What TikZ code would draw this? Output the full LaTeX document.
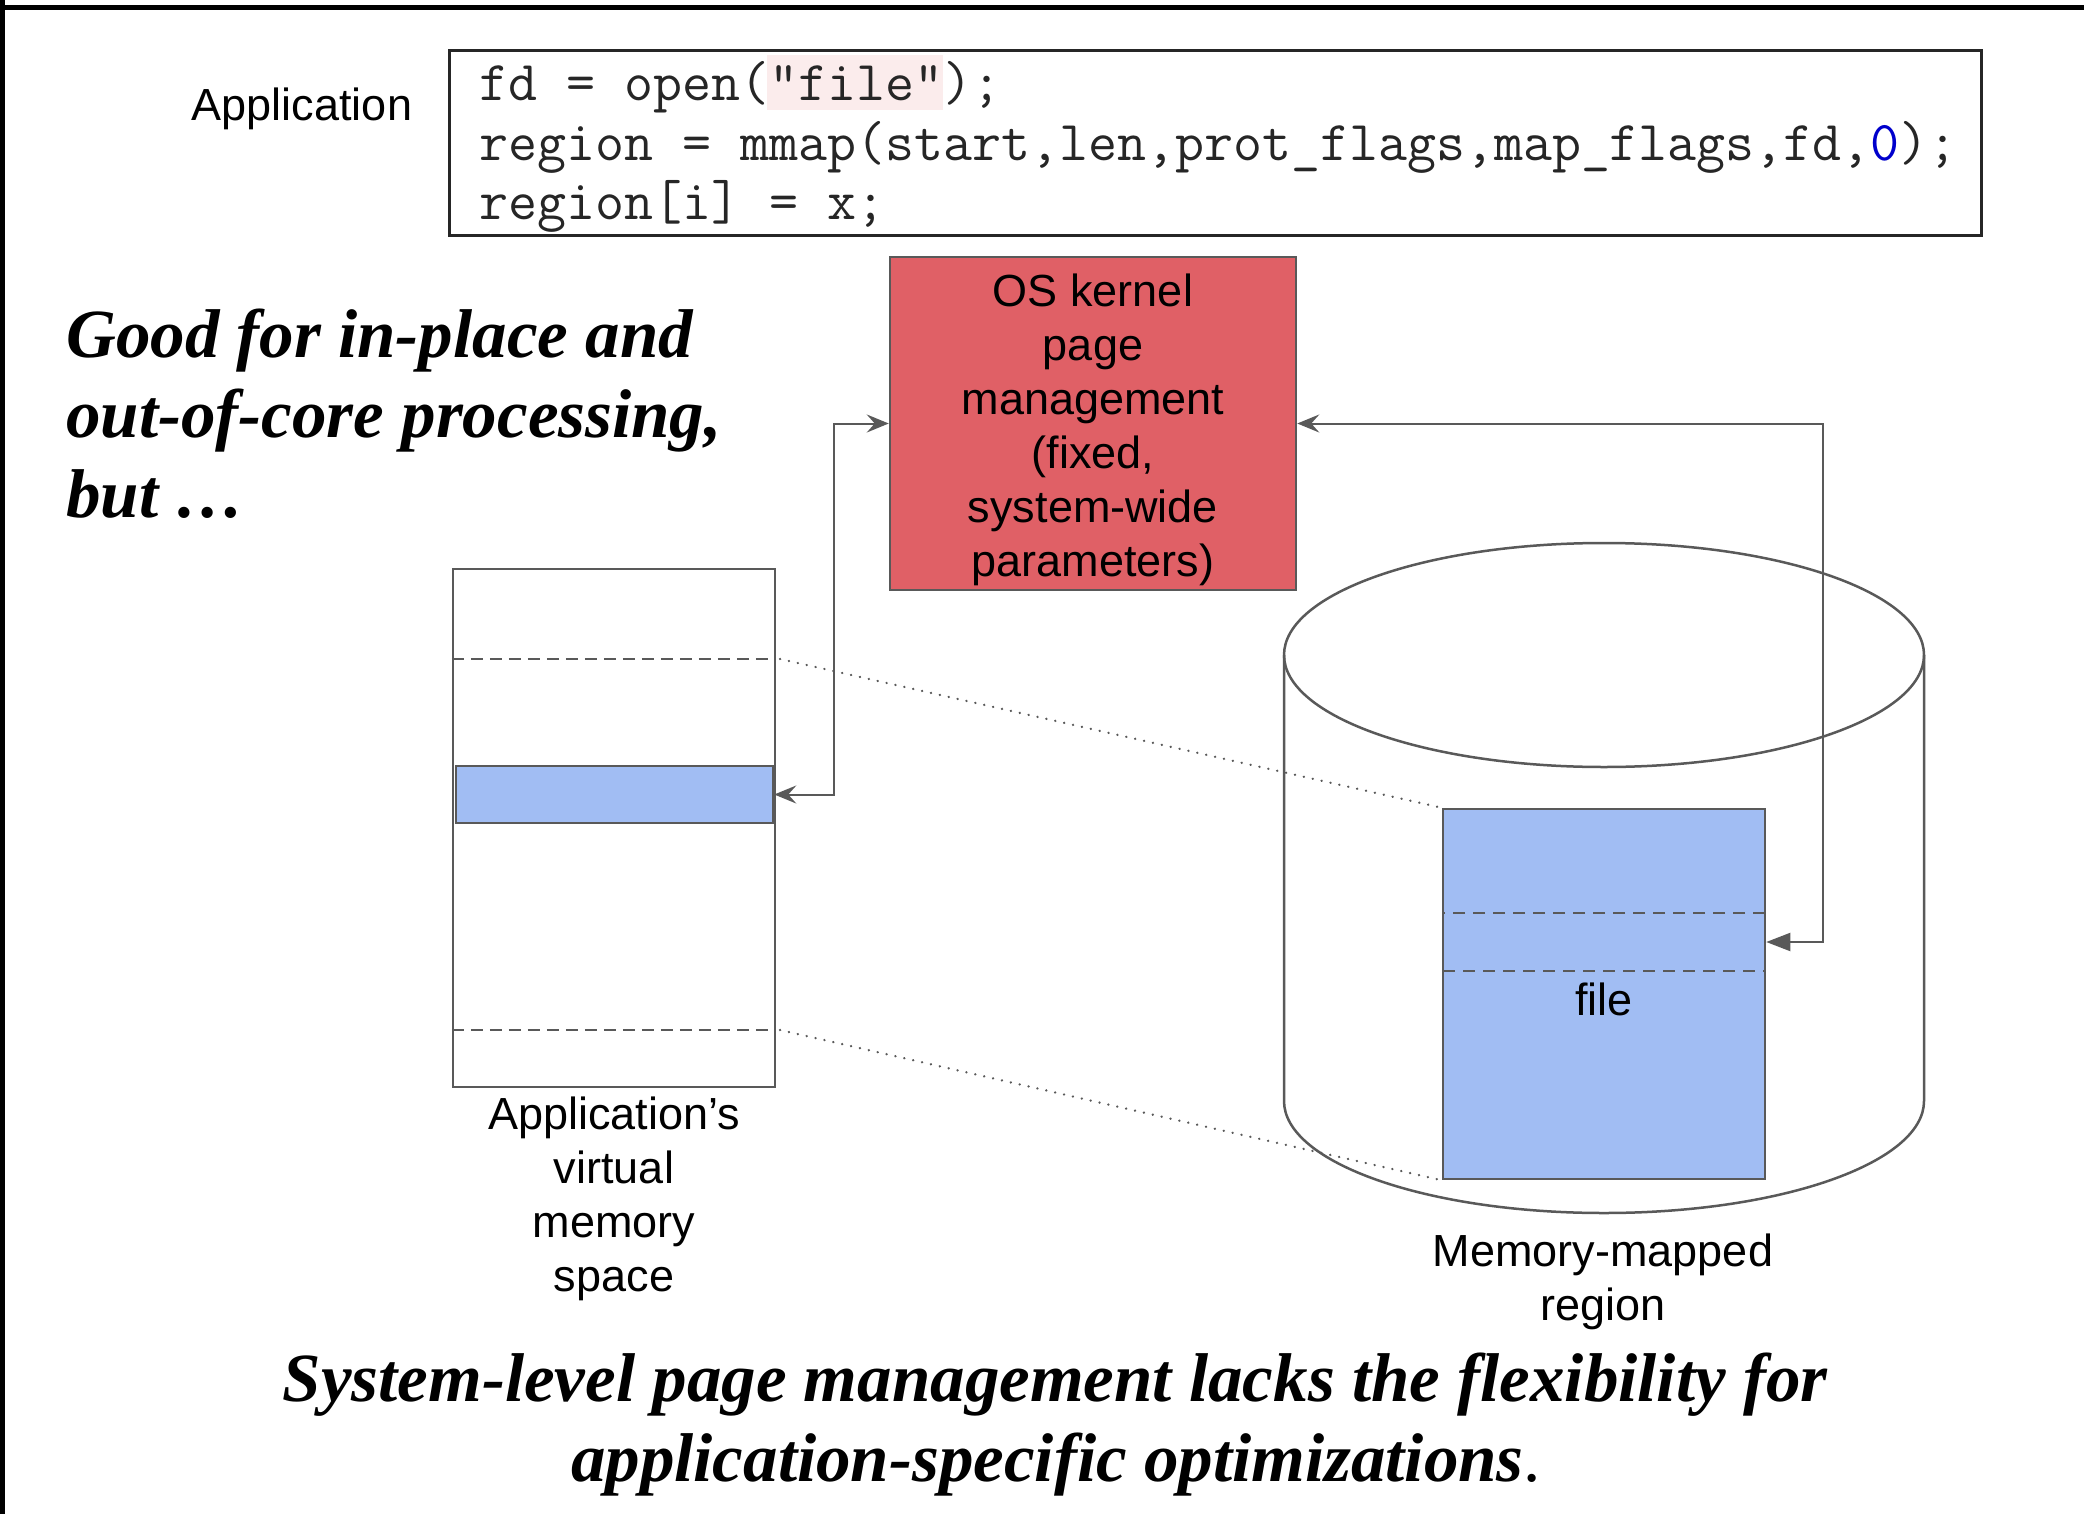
\documentclass[tikz,border=0pt]{standalone}
\usepackage{fontspec}
\setmainfont{Liberation Sans}
\newfontfamily\timesfont{Liberation Serif}
\usetikzlibrary{arrows.meta}
\definecolor{linegray}{HTML}{595959}
\definecolor{boxred}{HTML}{E06066}
\definecolor{boxblue}{HTML}{A1BDF3}
\definecolor{hlpink}{HTML}{FBECEC}
\definecolor{codeblue}{HTML}{0000CC}
\definecolor{codetext}{HTML}{262626}
\begin{document}
\begin{tikzpicture}[x=1pt,y=-1pt,
  sanslbl/.style={font=\fontsize{45}{54}\selectfont, align=center, inner sep=0pt, text=black},
  emphtxt/.style={font=\timesfont\bfseries\itshape\fontsize{69}{80}\selectfont, inner sep=0pt, text=black},
  codetxt/.style={font=\ttfamily\fontsize{56.3}{60}\selectfont, inner sep=0pt, text=codetext, anchor=base west},
  graybox/.style={draw=linegray, line width=2.5pt, inner sep=0pt},
  dashln/.style={draw=linegray, line width=2pt, dash pattern=on 12pt off 7pt},
  dotln/.style={draw=linegray, line width=2.5pt, dash pattern=on 0.1pt off 9pt, line cap=round},
  conn/.style={draw=linegray, line width=2pt},
  chev/.tip={Stealth[length=22pt,width=18pt,inset=8pt]},
  tri/.tip={Triangle[length=24pt,width=18pt]}
]
\useasboundingbox (0,0) rectangle (2084,1514);
\fill[white] (0,0) rectangle (2084,1514);

% cylinder (disk)
\draw[linegray, line width=2.5pt] (1604,655) ellipse [x radius=320pt, y radius=112pt];
\draw[linegray, line width=2.5pt] (1284,655) -- (1284,1101)
   arc[start angle=180, end angle=360, x radius=320pt, y radius=112pt] -- (1924,655);

% code box
\node[draw=codetext, line width=3pt, minimum width=1532pt, minimum height=185pt, inner sep=0pt] (code) at (1215.5,143.5) {};
\fill[hlpink] (767,55) rectangle (943,110);
\node[codetxt] (c1) at (479,101) {fd = open("file");};
\node[codetxt] (c2) at (479,161) {region = mmap(start,len,prot\_flags,map\_flags,fd,{\color{codeblue}0});};
\node[codetxt] (c3) at (479,220) {region[i] = x;};
\node[sanslbl, anchor=base] (app) at (302,121) {Application};

% OS kernel box
\node[graybox, fill=boxred, minimum width=406pt, minimum height=333pt] (os) at (1093,423.5) {};
\node[font=\fontsize{45}{54}\selectfont, align=center, inner sep=0pt] (oslbl) at (1093,430) 
  {OS kernel\\page\\management\\(fixed,\\system-wide\\parameters)};

% virtual memory box
\node[graybox, minimum width=322pt, minimum height=518pt] (vm) at (614,828) {};
\coordinate (d1) at (775,659);
\coordinate (d2) at (775,1030);
\draw[dashln] (vm.west |- d1) -- (d1);
\draw[dashln] (vm.west |- d2) -- (d2);
\node[graybox, fill=boxblue, minimum width=317pt, minimum height=57pt] (vmblk) at (614.5,794.5) {};
\node[sanslbl] (vmlbl) at (614,1199) {Application’s\\virtual\\memory\\space};

% file region
\node[graybox, fill=boxblue, minimum width=322pt, minimum height=370pt] (file) at (1604,994) {};
\node[sanslbl] (filelbl) at (1604,999) {file};
\node[draw=linegray, line width=2.5pt, dash pattern=on 12pt off 8pt, minimum width=322pt, minimum height=58pt, inner sep=0pt] (fdash) at (1604,942) {};
\node[sanslbl] (mmlbl) at (1603,1282) {Memory-mapped\\region};

% dotted mapping lines
\draw[dotln] ([xshift=5pt]d1) -- (file.north west);
\draw[dotln] ([xshift=5pt]d2) -- (file.south west);

% connectors
\draw[conn, {chev}-{chev}] (os.west) -| ([xshift=60pt]vmblk.east) -- (vmblk.east);
\draw[conn, {chev}-{tri}] (os.east) -| ([xshift=57pt]fdash.east) -- (fdash.east);

% emphasised texts
\node[emphtxt, anchor=base west] (g1) at (66,357) {Good for in-place and};
\node[emphtxt, anchor=base west] (g2) at (66,437) {out-of-core processing,};
\node[emphtxt, anchor=base west] (g3) at (66,517) {but …};
\node[emphtxt, anchor=base] (s1) at (1055,1401) {System-level page management lacks the flexibility for};
\node[emphtxt, anchor=base] (s2) at (1056,1481) {application-specific optimizations{\upshape\mdseries.}};

% frame
\draw[black, line width=5pt] (0,7.5) -- (2084,7.5);
\draw[black, line width=5pt] (2.5,0) -- (2.5,1514);
\end{tikzpicture}
\end{document}
